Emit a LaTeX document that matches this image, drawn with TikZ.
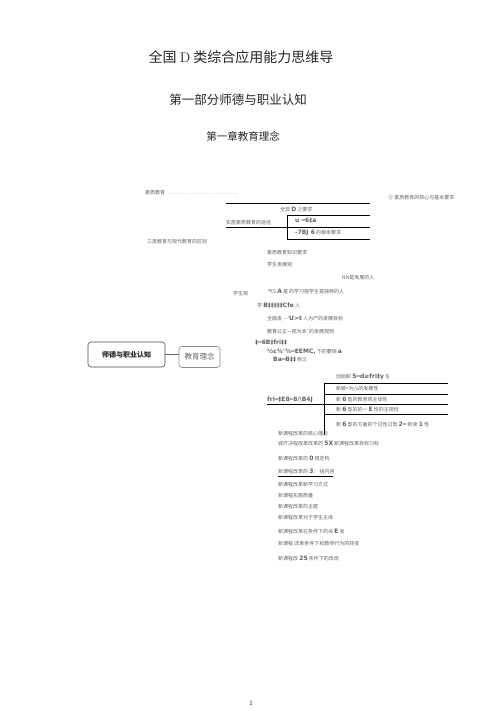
\documentclass[tikz,border=0pt]{standalone}
\usepackage{fontspec}
\newfontfamily\cjk{Noto Sans CJK SC}
\newfontfamily\dvs{DejaVu Sans}
\newcommand{\gl}[1]{{\dvs\bfseries\fontsize{6}{7}\selectfont #1}}
\tikzset{
  small/.style={anchor=west, inner sep=0pt, font=\cjk\fontsize{5}{6}\selectfont, text=black!62},
  ttl/.style={anchor=center, inner sep=0pt, text=black!85},
  rule/.style={line width=0.8pt, draw=black},
  rootbox/.style={draw=black!70, line width=0.6pt, rounded corners=3pt, minimum width=77pt, minimum height=25pt, inner sep=0pt, font=\cjk\bfseries\fontsize{7}{8}\selectfont, text=black!85},
  childbox/.style={draw=black!45, line width=0.6pt, rounded corners=3pt, minimum width=41pt, minimum height=21pt, inner sep=0pt, font=\cjk\fontsize{7.5}{8}\selectfont, text=black!60},
}
\begin{document}
\begin{tikzpicture}[x=1pt,y=-1pt]
\useasboundingbox (0,0) rectangle (503,711);
\fill[white] (0,0) rectangle (503,711);
% titles
\node[ttl, font=\cjk\fontsize{14}{16}\selectfont] (t1) at (241,57) {全国 {\rmfamily D} 类综合应用能力思维导};
\node[ttl, font=\cjk\fontsize{12.5}{14}\selectfont] (t2) at (238,100) {第一部分师德与职业认知};
\node[ttl, font=\cjk\fontsize{10.5}{12}\selectfont] (t3) at (243,136) {第一章教育理念};
% root
\node[rootbox] (root) at (126.5,354.5) {师德与职业认知};
\node[childbox] (child) at (199.5,357) {教育理念};
\draw[draw=black!60, line width=0.6pt] (root.east) -- (child.west |- root.east);
% top block
\node[small] (a1) at (145,193) {素质教育 \makebox[72pt]{\dotfill}};
\node[small] (a2) at (388,198) {⑤ 素质教育的核心与基本要求};
\coordinate (l1a) at (226,203); \coordinate (l1b) at (370,203);
\draw[rule] (l1a) -- (l1b);
\node[small] (a3) at (280,210) {全现 \gl{D} 之要求};
\node[small] (a4) at (226,222.5) {实施素质教育的途径};
\coordinate (l2a) at (226,227); \coordinate (l2b) at (370,227);
\coordinate (b1tl) at (287,215); \coordinate (b1tr) at (370,215);
\coordinate (b1bl) at (287,239); \coordinate (b1br) at (370,239);
\draw[rule] (l2a) -- (l2b);
\draw[rule] (b1tr) -- (b1tl) -- (b1bl) -- (b1br);
\node[small] (a5) at (295,221) {\gl{u ═6‡a}};
\node[small] (a6) at (295,233) {\gl{-7BJ 6} 的根本要求};
\node[small] (a7) at (147,242) {三类教育与现代教育的区别};
\node[small] (a8) at (267,253) {素质教育知识要求};
\node[small] (a9) at (267,265) {学生发展观};
\node[small] (a10) at (342,278) {NN是发展的人};
\node[small] (a11) at (233,294) {学生观};
\node[small] (a12) at (268,292) {气S \gl{A} 是 的学习规学生是独特的人};
\node[small] (a13) at (257,306) {学 \gl{B‡‡‡‡‡Cfe} 人};
\node[small] (a14) at (267,319) {全面发 —'\gl{U>t} 人为产的发展目标};
\node[small] (a15) at (267,332) {教育公正—视为本' 的发展规则};
\node[small] (a16) at (255,343) {\gl{‡═6B‡fri‡‡}};
\node[small] (a17) at (267,351.5) {\gl{½c¾'¾═EEMC,} 下的要规 \gl{a}};
\node[small] (a18) at (273,360) {\gl{Ba═B‡‡} 辨义};
\node[small] (a19) at (336,377) {创始职 \gl{5═d≥fri‡y} 生};
% second box
\node[small] (a20) at (267,399.5) {\gl{fri═‡E8═8/\textbackslash B4J}};
\coordinate (l3a) at (267,404); \coordinate (l3b) at (448,404);
\draw[rule] (l3a) -- (l3b);
\coordinate (b2t) at (324,383); \coordinate (b2b) at (324,435);
\draw[rule] (b2t) -- (b2b);
\coordinate (r1a) at (324,383); \coordinate (r1b) at (448,383);
\coordinate (r2a) at (324,394); \coordinate (r2b) at (448,394);
\coordinate (r4a) at (324,414); \coordinate (r4b) at (448,414);
\draw[rule] (r1a) -- (r1b);
\draw[rule] (r2a) -- (r2b);
\draw[rule] (r4a) -- (r4b);
\node[small] (c1) at (336,388.5) {新颖=为/s的发展性};
\node[small] (c2) at (336,399) {新 \gl{6} 型的教育观主体性};
\node[small] (c3) at (336,409) {新 \gl{6} 型的的一 \gl{E} 性的主观性};
\node[small] (c4) at (336,424) {新 \gl{6} 型的方面的个过性过型 \gl{2═} 新读 \gl{1} 性};
% list
\node[small] (d1) at (278,434) {新课程改革的核心理念};
\node[small] (d2) at (278,444) {城疗决程改革改革的 \gl{5X} 新课程改革目标习标};
\node[small] (d3) at (278,458) {新课程改革的 \gl{0} 规定构};
\node[small] (d4) at (278,471.5) {新课程改革的 \gl{3}： 组内容};
\coordinate (u4a) at (278,476); \coordinate (u4b) at (333,476);
\draw[line width=0.6pt] (u4a) -- (u4b);
\node[small] (d5) at (278,485) {新课程改革新学习方式};
\node[small] (d6) at (278,496) {新课程实施质量};
\node[small] (d7) at (278,507) {新课程改革的主题};
\node[small] (d8) at (278,518) {新课程改革对于学生主体};
\node[small] (d9) at (278,532) {新课程改革在条件下的关 \gl{E} 发};
\node[small] (d10) at (278,544) {新课程 改革条件下和教师行为的转变};
\node[small] (d11) at (278,558) {新课程改 \gl{25} 条件下的改观};
% page number
\node[ttl, font=\cjk\fontsize{6}{7}\selectfont] (pg) at (251,703) {1};
\end{tikzpicture}
\end{document}
